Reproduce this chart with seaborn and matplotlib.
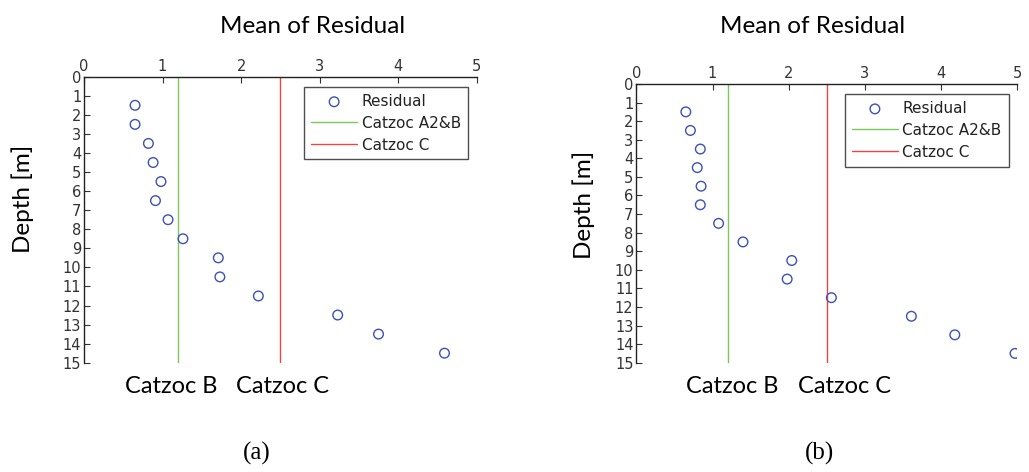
import numpy as np
import pandas as pd
import matplotlib
matplotlib.use("Agg")
import matplotlib.pyplot as plt
import seaborn as sns

# ---- data ----
depth = [1.5, 2.5, 3.5, 4.5, 5.5, 6.5, 7.5, 8.5, 9.5, 10.5, 11.5, 12.5, 13.5, 14.5]
residual_a = [0.65, 0.65, 0.82, 0.88, 0.98, 0.91, 1.07, 1.26, 1.71, 1.73, 2.22, 3.23, 3.75, 4.59]
residual_b = [0.65, 0.71, 0.84, 0.80, 0.85, 0.84, 1.08, 1.40, 2.04, 1.98, 2.56, 3.61, 4.18, 4.97]
catzoc_ab = 1.2
catzoc_c = 2.5
depth_range = [0, 15]
x_ticks = [0, 1, 2, 3, 4, 5]
y_ticks = list(range(0, 16))
panel_labels = ["(a)", "(b)"]

sns.set_theme(style="white")
plt.rcParams['font.family'] = ['DejaVu Sans']
plt.rcParams['text.color'] = 'black'

W, H = 1029, 472
fig = plt.figure(figsize=(W / 100, H / 100), dpi=100)

def px_axes(l, r, t, b):
    return fig.add_axes([l / W, 1 - b / H, (r - l) / W, (b - t) / H])

ax_a = px_axes(84, 476.7, 76.7, 362.7)
ax_b = px_axes(636.3, 1017.3, 84, 362.7)

blue = "#3c50b8"
green = "#7ac75a"
red = "#ee4444"
tick_col = "#333333"

def draw(ax, resid):
    df = pd.DataFrame({"Depth": depth, "Residual": resid})
    sns.scatterplot(data=df, x="Residual", y="Depth", ax=ax, marker="o",
                    facecolor="none", edgecolor=blue, linewidth=1.0, s=48,
                    label="Residual", zorder=3)
    lab = pd.DataFrame({"x": [catzoc_ab, catzoc_ab], "y": depth_range})
    lcc = pd.DataFrame({"x": [catzoc_c, catzoc_c], "y": depth_range})
    sns.lineplot(data=lab, x="x", y="y", ax=ax, color=green, linewidth=1.0,
                 sort=False, orient="y", label="Catzoc A2&B")
    sns.lineplot(data=lcc, x="x", y="y", ax=ax, color=red, linewidth=1.0,
                 sort=False, orient="y", label="Catzoc C")
    ax.set_xlim(0, 5)
    ax.set_ylim(15, 0)
    ax.xaxis.tick_top()
    ax.set_xticks(x_ticks)
    ax.set_yticks(y_ticks)
    ax.tick_params(axis="both", direction="in", length=4, width=0.8,
                   labelsize=10.5, colors=tick_col, pad=2,
                   top=True, bottom=False, left=True, right=False)
    for s in ["right", "bottom"]:
        ax.spines[s].set_visible(False)
    for s in ["top", "left"]:
        ax.spines[s].set_color("#222222")
        ax.spines[s].set_linewidth(1.0)
    ax.set_xlabel("")
    ax.set_ylabel("")
    ax.set_facecolor("white")
    leg = ax.legend(loc="upper right", bbox_to_anchor=(0.985, 0.975),
                    frameon=True, fancybox=False, fontsize=11,
                    handlelength=3.0, handletextpad=0.3, borderpad=0.45,
                    labelspacing=0.45, borderaxespad=0.2)
    leg.get_frame().set_edgecolor("#222222")
    leg.get_frame().set_linewidth(1.0)
    for t in leg.get_texts():
        t.set_color("#222222")

draw(ax_a, residual_a)
draw(ax_b, residual_b)

sans = ['Lato', 'DejaVu Sans']
serif = ['Liberation Serif', 'DejaVu Serif']

def ftext(x, y, s, **kw):
    fig.text(x / W, 1 - y / H, s, color="black", **kw)

ftext(313, 33, "Mean of Residual", ha="center", va="baseline", fontsize=17.5, family=sans)
ftext(813, 33, "Mean of Residual", ha="center", va="baseline", fontsize=17.5, family=sans)
ftext(23, 199, "Depth [m]", ha="center", va="center", rotation=90, fontsize=17.5, family=sans)
ftext(584, 205, "Depth [m]", ha="center", va="center", rotation=90, fontsize=17.5, family=sans)
ftext(171, 393, "Catzoc B", ha="center", va="baseline", fontsize=17, family=sans)
ftext(283, 393, "Catzoc C", ha="center", va="baseline", fontsize=17, family=sans)
ftext(732, 393, "Catzoc B", ha="center", va="baseline", fontsize=17, family=sans)
ftext(845, 393, "Catzoc C", ha="center", va="baseline", fontsize=17, family=sans)
ftext(257, 460, panel_labels[0], ha="center", va="baseline", fontsize=18, family=serif)
ftext(820, 460, panel_labels[1], ha="center", va="baseline", fontsize=18, family=serif)

fig.savefig("out.png", dpi=100, facecolor="white")
